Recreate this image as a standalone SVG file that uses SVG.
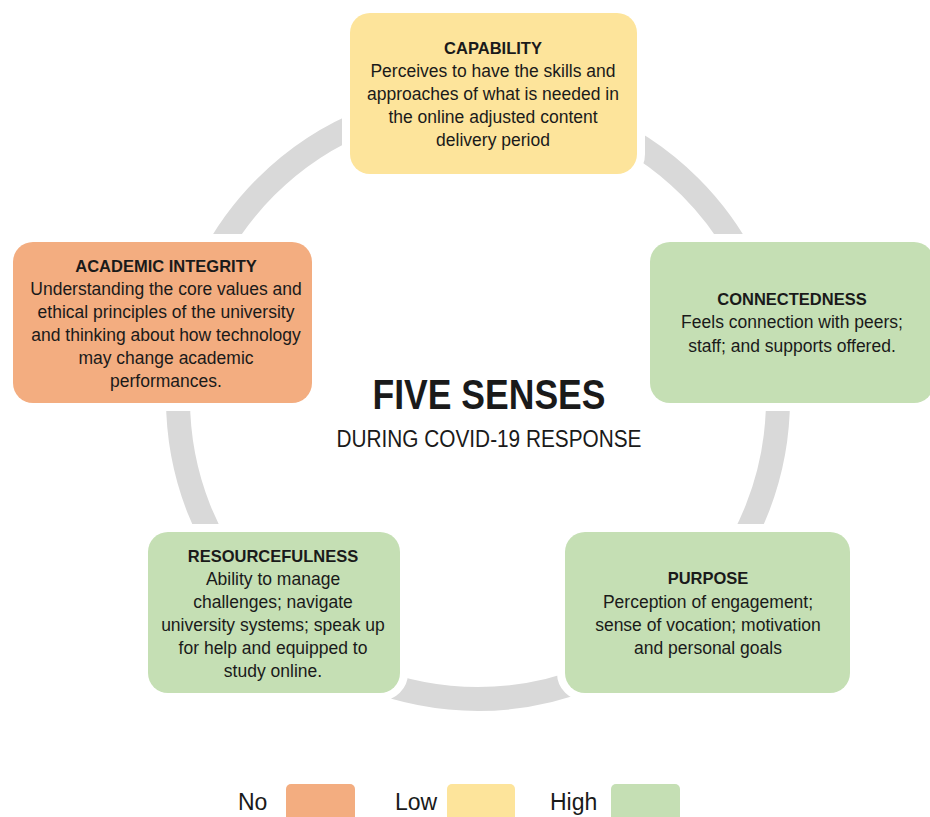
<svg xmlns="http://www.w3.org/2000/svg" width="930" height="817" viewBox="0 0 930 817">
<defs>
<style>
.box{stroke:#ffffff;stroke-width:16;paint-order:stroke}
.no{fill:#f3ad80}
.low{fill:#fde49b}
.high{fill:#c5dfb4}
text{font-family:"Liberation Sans",Arial,sans-serif;fill:#1a1a1a;text-anchor:middle}
.t{font-weight:bold;font-size:16.5px}
.b{font-size:17.5px}
.leg{font-size:23px;text-anchor:start}
</style>
</defs>
<rect width="930" height="817" fill="#ffffff"/>
<g id="connectors">
<circle cx="478" cy="399" r="300" fill="none" stroke="#d9d9d9" stroke-width="24"/>
</g>
<g id="title">
<text x="489" y="409" font-size="42" font-weight="bold" textLength="233" lengthAdjust="spacingAndGlyphs">FIVE SENSES</text>
<text x="489" y="447" font-size="23" textLength="305" lengthAdjust="spacingAndGlyphs">DURING COVID-19 RESPONSE</text>
</g>
<g id="capability">
<rect class="box low" x="350" y="13" width="287" height="161" rx="20"/>
<text class="t" x="493" y="54">CAPABILITY</text>
<text class="b" x="493" y="77">Perceives to have the skills and</text>
<text class="b" x="493" y="100">approaches of what is needed in</text>
<text class="b" x="493" y="123">the online adjusted content</text>
<text class="b" x="493" y="146">delivery period</text>
</g>
<g id="academic-integrity">
<rect class="box no" x="13" y="242" width="299" height="161" rx="20"/>
<text class="t" x="166" y="272">ACADEMIC INTEGRITY</text>
<text class="b" x="166" y="295">Understanding the core values and</text>
<text class="b" x="166" y="318">ethical principles of the university</text>
<text class="b" x="166" y="341">and thinking about how technology</text>
<text class="b" x="166" y="364">may change academic</text>
<text class="b" x="166" y="387">performances.</text>
</g>
<g id="connectedness">
<rect class="box high" x="650" y="242" width="284" height="161" rx="20"/>
<text class="t" x="792" y="305">CONNECTEDNESS</text>
<text class="b" x="792" y="328">Feels connection with peers;</text>
<text class="b" x="792" y="352">staff; and supports offered.</text>
</g>
<g id="resourcefulness">
<rect class="box high" x="148" y="532" width="252" height="161" rx="20"/>
<text class="t" x="273" y="562">RESOURCEFULNESS</text>
<text class="b" x="273" y="585">Ability to manage</text>
<text class="b" x="273" y="608">challenges; navigate</text>
<text class="b" x="273" y="631">university systems; speak up</text>
<text class="b" x="273" y="654">for help and equipped to</text>
<text class="b" x="273" y="677">study online.</text>
</g>
<g id="purpose">
<rect class="box high" x="565" y="532" width="285" height="161" rx="20"/>
<text class="t" x="708" y="584">PURPOSE</text>
<text class="b" x="708" y="608">Perception of engagement;</text>
<text class="b" x="708" y="631">sense of vocation; motivation</text>
<text class="b" x="708" y="654">and personal goals</text>
</g>
<g id="legend">
<text class="leg" x="238" y="810">No</text>
<rect class="no" x="286" y="784" width="69" height="45" rx="5"/>
<text class="leg" x="395" y="810">Low</text>
<rect class="low" x="447" y="784" width="68" height="45" rx="5"/>
<text class="leg" x="550" y="810">High</text>
<rect class="high" x="611" y="784" width="69" height="45" rx="5"/>
</g>
</svg>
